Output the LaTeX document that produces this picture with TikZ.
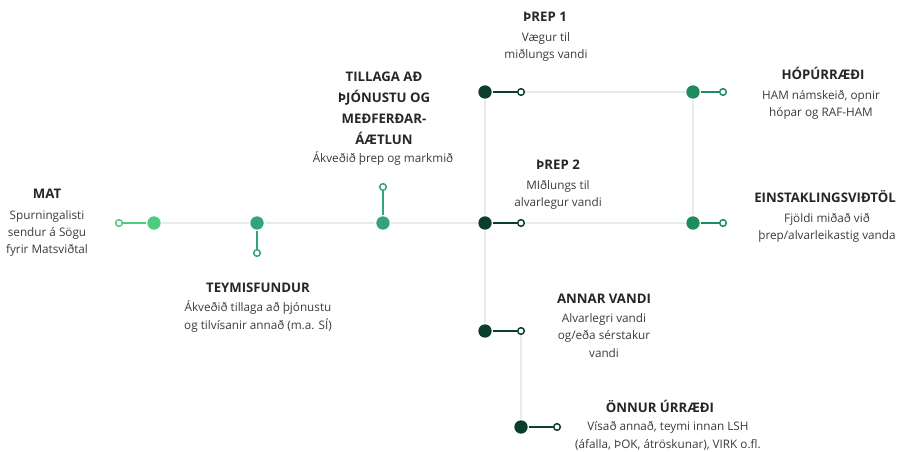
\documentclass[tikz,border=0pt]{standalone}
\usepackage{fontspec}
\setmainfont{Open Sans}
\usetikzlibrary{positioning}
\definecolor{matgreen}{HTML}{4FCB80}
\definecolor{midgreen}{HTML}{34A47C}
\definecolor{darkgreen}{HTML}{0C3F2B}
\definecolor{teal}{HTML}{1E8C5E}
\definecolor{railgrey}{HTML}{E8EBEE}
\definecolor{textgrey}{HTML}{3A3A3A}
\definecolor{titlegrey}{HTML}{262626}

\begin{document}
\begin{tikzpicture}[x=0.75pt,y=-0.75pt,line width=1.5pt,
                    every node/.style={align=center}]
  \tikzstyle{dot}=[circle,inner sep=0pt,minimum size=10pt]
  \tikzstyle{tip}=[circle,draw,fill=white,inner sep=0pt,minimum size=5pt,line width=1.1pt]
  \tikzstyle{rail}=[draw=railgrey]
  \tikzstyle{heading}=[text=titlegrey,font=\bfseries\fontsize{9.9}{15.8}\selectfont,anchor=base,inner sep=0pt]
  \tikzstyle{desc}=[text=textgrey,font=\fontsize{8.8}{13.1}\selectfont,anchor=base,inner sep=0pt]

  \useasboundingbox (0,0) rectangle (899,452);

  \node[dot,fill=matgreen] (mat) at (154,223) {};
  \node[tip,draw=matgreen] (matend) at (119,223) {};
  \node[dot,fill=midgreen] (teymi) at (257,223) {};
  \node[tip,draw=midgreen] (teymiend) at (257,253) {};
  \node[dot,fill=midgreen] (tillaga) at (383,223) {};
  \node[tip,draw=midgreen] (tillagaend) at (383,187) {};
  \node[dot,fill=darkgreen] (threp1) at (485,92) {};
  \node[tip,draw=darkgreen] (threp1end) at (521,92) {};
  \node[dot,fill=darkgreen] (threp2) at (485,223) {};
  \node[tip,draw=darkgreen] (threp2end) at (521,223) {};
  \node[dot,fill=teal] (hopur) at (693,92) {};
  \node[tip,draw=teal] (hopurend) at (723,92) {};
  \node[dot,fill=teal] (einst) at (693,223) {};
  \node[tip,draw=teal] (einstend) at (723,223) {};
  \node[dot,fill=darkgreen] (annar) at (485,331) {};
  \node[tip,draw=darkgreen] (annarend) at (521,331) {};
  \node[dot,fill=darkgreen] (onnur) at (521,427) {};
  \node[tip,draw=darkgreen] (onnurend) at (557,427) {};

  \path[rail] (mat) -- (teymi)
              (teymi) -- (tillaga)
              (tillaga) -- (threp2)
              (threp1end) -- (hopur)
              (threp2end) -- (einst)
              (threp1) -- (threp2)
              (threp2) -- (annar)
              (hopur) -- (einst)
              (annarend) -- (onnur);
  \draw[matgreen] (matend) -- (mat);
  \draw[midgreen] (teymi) -- (teymiend);
  \draw[midgreen] (tillaga) -- (tillagaend);
  \draw[darkgreen] (threp1) -- (threp1end);
  \draw[darkgreen] (threp2) -- (threp2end);
  \draw[teal] (hopur) -- (hopurend);
  \draw[teal] (einst) -- (einstend);
  \draw[darkgreen] (annar) -- (annarend);
  \draw[darkgreen] (onnur) -- (onnurend);

  \node[heading] (matT) at (47,199) {MAT};
  \node[desc] (matD) at (47,254) {Spurningalisti\\sendur á Sögu\\fyrir Matsviðtal};
  \node[heading] (teymiT) at (258,292) {TEYMISFUNDUR};
  \node[desc] (teymiD) at (258,329) {Ákveðið tillaga að þjónustu\\og tilvísanir annað (m.a. SÍ)};
  \node[heading] (tillagaT) at (384,145) {TILLAGA AÐ\\ÞJÓNUSTU OG\\MEÐFERÐAR-\\ÁÆTLUN};
  \node[desc] (tillagaD) at (383,163) {Ákveðið þrep og markmið};
  \node[heading] (threp1T) at (545,22) {ÞREP 1};
  \node[desc] (threp1D) at (546,59) {Vægur til\\miðlungs vandi};
  \node[heading] (threp2T) at (558,170) {ÞREP 2};
  \node[desc] (threp2D) at (558,207) {MIðlungs til\\alvarlegur vandi};
  \node[heading] (hopurT) at (823,80) {HÓPÚRRÆÐI};
  \node[desc] (hopurD) at (821,117) {HAM námskeið, opnir\\hópar og RAF-HAM};
  \node[heading] (einstT) at (825,203) {EINSTAKLINGSVIÐTÖL};
  \node[desc] (einstD) at (827,240) {Fjöldi miðað við\\þrep/alvarleikastig vanda};
  \node[heading] (annarT) at (604,303) {ANNAR VANDI};
  \node[desc] (annarD) at (604,357) {Alvarlegri vandi\\og/eða sérstakur\\vandi};
  \node[heading] (onnurT) at (660,412) {ÖNNUR ÚRRÆÐI};
  \node[desc] (onnurD) at (668,448) {Vísað annað, teymi innan LSH\\(áfalla, ÞOK, átröskunar), VIRK o.fl.};
\end{tikzpicture}
\end{document}
